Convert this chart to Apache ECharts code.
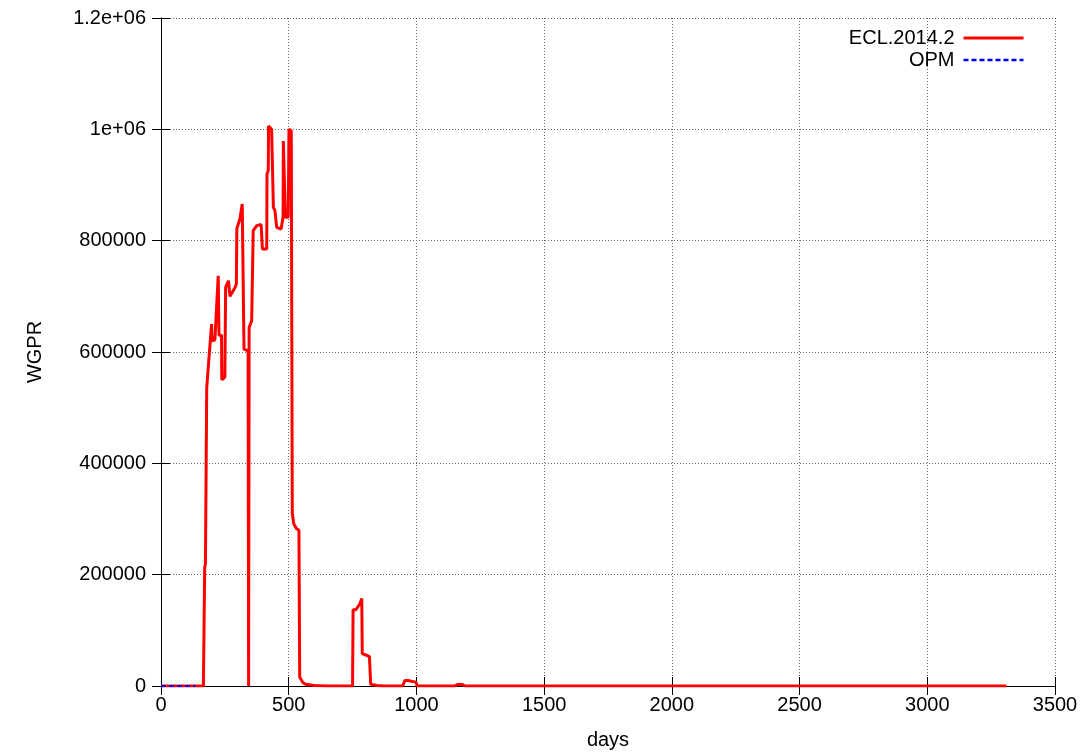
<html lang="en">
<head>
	<meta charset="utf-8">
	<title>WGPR</title>
	<script src="https://cdn.jsdelivr.net/npm/echarts@6/dist/echarts.min.js"></script>
	<style>
		body { margin: 0; background: #fff; }
		#chart { width: 1087px; height: 756px; }
	</style>
</head>
<body>
	<div id="chart"></div>
	<script>
		// values: [days, WGPR]
		var eclDays = [0, 50, 100, 166, 171, 174, 179, 198, 200, 211, 224, 227, 237, 238, 250, 253, 264, 270, 290, 295,
			297, 309, 318, 322, 325, 341, 343, 345, 355, 361, 375, 392, 397, 414, 415, 420, 421, 427, 433, 440,
			446, 453, 470, 478, 479, 486, 487, 498, 501, 510, 514, 520, 530, 540, 543, 548, 556, 566, 600, 650,
			700, 750, 752, 763, 779, 786, 788, 816, 821, 845, 870, 946, 955, 966, 970, 998, 1003, 1150, 1160, 1180,
			1190, 1500, 2000, 2500, 3000, 3310];
		var eclWgpr = [0, 0, 0, 0, 212000, 220000, 536000, 650000, 620000, 622000, 737000, 630000, 630000, 550000, 555000, 716000, 728000, 700000, 716000, 722000,
			822000, 839000, 866000, 866000, 605000, 602000, 0, 644000, 656000, 818000, 827000, 829000, 785000, 785000, 920000, 926000, 1006000, 1008000, 1000000, 860000,
			854000, 824000, 821000, 842000, 979000, 979000, 842000, 842000, 1000000, 997000, 310000, 291000, 283000, 280000, 16000, 12000, 6000, 3000, 1000, 0,
			0, 0, 137000, 137000, 148000, 157000, 58000, 53000, 3000, 1000, 0, 0, 10000, 10000, 7000, 7000, 0, 0, 2500, 2500,
			0, 0, 0, 0, 0, 0];
		var opmDays = [0, 50, 100, 135];
		var opmWgpr = [0, 0, 0, 0];

		function pairs(xs, ys) {
			var out = [];
			for (var i = 0; i < xs.length; i++) {
				out.push([xs[i], ys[i]]);
			}
			return out;
		}

		function yLabel(v) {
			if (v === 1000000) return '1e+06';
			if (v === 1200000) return '1.2e+06';
			return String(v);
		}

		var font = 'Liberation Sans, Arial, sans-serif';
		var dotted = { show: true, lineStyle: { color: '#666', width: 1, type: [1, 2] } };
		var frame = { show: true, lineStyle: { color: '#000', width: 1 } };
		var ticks = { show: true, inside: true, length: 9, lineStyle: { color: '#000', width: 1 } };

		var chart = echarts.init(document.getElementById('chart'), null, { renderer: 'canvas' });
		chart.setOption({
			animation: false,
			backgroundColor: '#fff',
			textStyle: { fontFamily: font },
			grid: { left: 161, right: 32, top: 18, bottom: 70 },
			legend: {
				orient: 'vertical',
				right: 57,
				top: 23,
				align: 'right',
				itemWidth: 60,
				itemHeight: 20,
				itemGap: 2,
				itemStyle: { opacity: 0 },
				textStyle: { fontSize: 20, color: '#000', fontFamily: font, padding: [0, 4, 0, 0] },
				data: [
					{ name: 'ECL.2014.2', lineStyle: { width: 3 } },
					{ name: 'OPM', lineStyle: { width: 2.5, type: [5, 3] } }
				]
			},
			xAxis: [{
				type: 'value', min: 0, max: 3500, interval: 500,
				name: 'days', nameLocation: 'middle', nameGap: 44,
				nameTextStyle: { fontSize: 20, color: '#000' },
				axisLine: frame, axisTick: ticks, splitLine: dotted,
				axisLabel: { fontSize: 20, color: '#000', margin: 9, formatter: function (v) { return String(v); } }
			}, {
				type: 'value', position: 'top', min: 0, max: 3500, interval: 500,
				axisLine: frame, axisTick: ticks, splitLine: { show: false },
				axisLabel: { show: false }
			}],
			yAxis: [{
				type: 'value', min: 0, max: 1200000, interval: 200000,
				name: 'WGPR', nameLocation: 'middle', nameGap: 116, nameRotate: 90,
				nameTextStyle: { fontSize: 20, color: '#000' },
				axisLine: frame, axisTick: ticks, splitLine: dotted,
				axisLabel: { fontSize: 20, color: '#000', margin: 15, formatter: yLabel }
			}, {
				type: 'value', position: 'right', min: 0, max: 1200000, interval: 200000,
				axisLine: frame, axisTick: ticks, splitLine: { show: false },
				axisLabel: { show: false }
			}],
			series: [{
				name: 'ECL.2014.2', type: 'line', symbol: 'none',
				lineStyle: { color: '#ff0000', width: 3 },
				itemStyle: { color: '#ff0000' },
				data: pairs(eclDays, eclWgpr)
			}, {
				name: 'OPM', type: 'line', symbol: 'none',
				lineStyle: { color: '#0000ff', width: 2, type: [5, 3] },
				itemStyle: { color: '#0000ff' },
				data: pairs(opmDays, opmWgpr)
			}]
		});
	</script>
</body>
</html>
